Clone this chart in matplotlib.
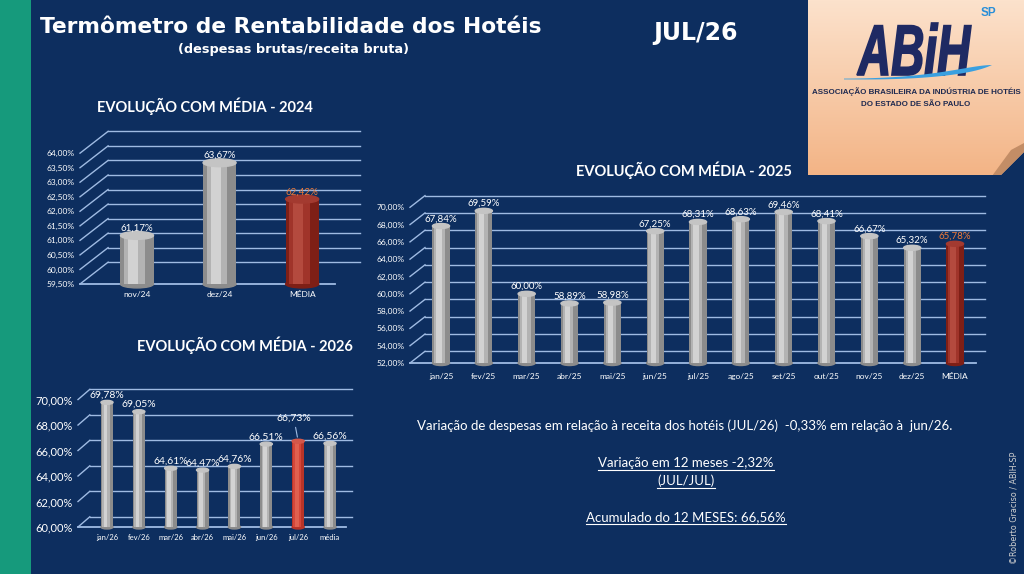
import matplotlib
matplotlib.use("Agg")
import matplotlib.pyplot as plt
import numpy as np
from matplotlib.patches import Ellipse, Polygon, PathPatch, Rectangle
from matplotlib.textpath import TextPath
from matplotlib.font_manager import FontProperties
from matplotlib.transforms import Affine2D
from matplotlib.lines import Line2D

plt.rcParams['font.family'] = ['Lato', 'DejaVu Sans']

NAVY = '#0d2e5f'
GREEN = '#169a7c'
GRID = '#9fbbe3'
ORANGE = '#ee7b3a'

# dados
meses_24 = ['nov/24', 'dez/24', 'MÉDIA']
valores_24 = [61.17, 63.67, 62.42]
ticks_24 = [59.5, 60.0, 60.5, 61.0, 61.5, 62.0, 62.5, 63.0, 63.5, 64.0]

meses_25 = ['jan/25', 'fev/25', 'mar/25', 'abr/25', 'mai/25', 'jun/25', 'jul/25',
            'ago/25', 'set/25', 'out/25', 'nov/25', 'dez/25', 'MÉDIA']
valores_25 = [67.84, 69.59, 60.00, 58.89, 58.98, 67.25, 68.31, 68.63, 69.46,
              68.41, 66.67, 65.32, 65.78]
ticks_25 = [52, 54, 56, 58, 60, 62, 64, 66, 68, 70]

meses_26 = ['jan/26', 'fev/26', 'mar/26', 'abr/26', 'mai/26', 'jun/26', 'jul/26', 'média']
valores_26 = [69.78, 69.05, 64.61, 64.47, 64.76, 66.51, 66.73, 66.56]
ticks_26 = [60, 62, 64, 66, 68, 70]

GREY = ('#8c8c8c', '#b3b3b3', '#d2d2d2', '#c4c4c4')
RED_DARK = ('#7e1f16', '#a0342a', '#b44a3e', '#a33a30')
RED_LIGHT = ('#b83428', '#d4473a', '#e0604f', '#d3574a')


def pct(v):
    return f'{v:.2f}%'.replace('.', ',')


fig = plt.figure(figsize=(10.24, 5.74), dpi=100, facecolor=NAVY)
W, H = 1024, 574


def ftext(x, y, s, **kw):
    return fig.text(x / W, 1 - y / H, s, **kw)


def box(x0, y0, x1, y1):
    return [x0 / W, 1 - y1 / H, (x1 - x0) / W, (y1 - y0) / H]


def cylinder(ax, x, top, floor, w, cap, cols):
    base, mid, light, capc = cols
    ax.add_patch(Ellipse((x, floor), w, cap, color=base, zorder=3, clip_on=False))
    ax.bar(x, top - floor, w, bottom=floor, color=base, zorder=3, linewidth=0)
    ax.bar(x - w * 0.08, top - floor, w * 0.62, bottom=floor, color=mid, zorder=3, linewidth=0)
    ax.bar(x - w * 0.12, top - floor, w * 0.3, bottom=floor, color=light, zorder=3, linewidth=0)
    ax.add_patch(Ellipse((x, top), w, cap, color=capc, zorder=4, clip_on=False))


def grade(ax, ticks, off, dx, floor_x1):
    x0, x1 = ax.get_xlim()
    for t in ticks:
        ax.plot([x0, x0 + dx], [t, t + off], color=GRID, lw=1, zorder=1, clip_on=False)
        ax.plot([x0 + dx, x1], [t + off, t + off], color=GRID, lw=1, zorder=1, clip_on=False)
    ax.plot([x0, floor_x1], [ticks[0], ticks[0]], color=GRID, lw=1.3, zorder=2, clip_on=False)


def setup(ax, cats, ticks, ylim, xlim, ysize, xsize, ypad, xpad):
    ax.set_facecolor('none')
    for s in ax.spines.values():
        s.set_visible(False)
    ax.set_xlim(xlim)
    ax.set_ylim(ylim)
    ax.set_yticks(ticks)
    ax.set_yticklabels([pct(t) for t in ticks], color='white', fontsize=ysize)
    ax.set_xticks(range(len(cats)))
    ax.set_xticklabels(cats, color='white', fontsize=xsize)
    ax.tick_params(axis='y', length=0, pad=ypad)
    ax.tick_params(axis='x', length=0, pad=xpad)


# faixa verde
fig.add_artist(Rectangle((0, 0), 31 / W, 1, transform=fig.transFigure, color=GREEN, lw=0))

# cabeçalho
ftext(40, 27, 'Termômetro de Rentabilidade dos Hotéis', color='white', fontsize=15.7,
      fontweight='bold', family='DejaVu Sans', va='center', ha='left')
ftext(293, 50, '(despesas brutas/receita bruta)', color='white', fontsize=9.3,
      fontweight='bold', family='DejaVu Sans', va='center', ha='center')
ftext(695, 33, 'JUL/26', color='white', fontsize=17, fontweight='bold',
      family='DejaVu Sans', va='center', ha='center')

# ---- 2024
ax1 = fig.add_axes(box(80, 127, 360, 284))
setup(ax1, meses_24, ticks_24, (59.5, 64.9), (-0.69, 2.70), 6, 6, 4, 5)
grade(ax1, ticks_24, 0.75, 0.34, 2.4)
for i, v in enumerate(valores_24):
    media = meses_24[i] == 'MÉDIA'
    cylinder(ax1, i, v, 59.5, 0.4, 0.27, RED_DARK if media else GREY)
    ax1.annotate(pct(v), (i, v), xytext=(0, 2), textcoords='offset points', ha='center',
                 va='bottom', fontsize=7, color=ORANGE if media else 'white', zorder=5)
ftext(205, 106, 'EVOLUÇÃO COM MÉDIA - 2024', color='white', fontsize=10.5,
      fontweight='bold', ha='center', va='center')

# ---- 2025
ax2 = fig.add_axes(box(410, 190, 985, 363))
setup(ax2, meses_25, ticks_25, (52, 72), (-0.724, 12.70), 6, 6, 4, 7)
grade(ax2, ticks_25, 1.35, 0.35, 12.5)
for i, v in enumerate(valores_25):
    media = meses_25[i] == 'MÉDIA'
    cylinder(ax2, i, v, 52, 0.4, 0.58, RED_DARK if media else GREY)
    ax2.annotate(pct(v), (i, v), xytext=(0, 2), textcoords='offset points', ha='center',
                 va='bottom', fontsize=7, color=ORANGE if media else 'white', zorder=5)
ftext(684, 170, 'EVOLUÇÃO COM MÉDIA - 2025', color='white', fontsize=10.5,
      fontweight='bold', ha='center', va='center')

# ---- 2026
ax3 = fig.add_axes(box(78, 383, 352, 527))
setup(ax3, meses_26, ticks_26, (60, 71.3), (-0.91, 7.69), 8, 5.5, 4, 5)
grade(ax3, ticks_26, 0.8, 0.37, 7.5)
for i, v in enumerate(valores_26):
    atual = meses_26[i] == 'jul/26'
    cylinder(ax3, i, v, 60, 0.38, 0.31, RED_LIGHT if atual else GREY)
    if atual:
        ax3.annotate(pct(v), (i, v), xytext=(-3, 13), textcoords='offset points', ha='center',
                     va='bottom', fontsize=7.5, color='white', zorder=5,
                     arrowprops=dict(arrowstyle='-', color=GRID, lw=0.8, shrinkA=1, shrinkB=3))
    else:
        ax3.annotate(pct(v), (i, v), xytext=(0, 2), textcoords='offset points', ha='center',
                     va='bottom', fontsize=7.5, color='white', zorder=5)
ftext(245, 345, 'EVOLUÇÃO COM MÉDIA - 2026', color='white', fontsize=10.5,
      fontweight='bold', ha='center', va='center')

# ---- textos de resumo
ftext(685, 426, 'Variação de despesas em relação à receita dos hotéis (JUL/26)  -0,33% em relação à  jun/26.',
      color='white', fontsize=9.5, ha='center', va='center')
sub = [ftext(686, 463, 'Variação em 12 meses -2,32%', color='white', fontsize=9.5, ha='center', va='center'),
       ftext(686, 481, '(JUL/JUL)', color='white', fontsize=9.5, ha='center', va='center'),
       ftext(686, 517, 'Acumulado do 12 MESES: 66,56%', color='white', fontsize=9.5, ha='center', va='center')]
ftext(1014, 508, '©Roberto Graciso / ABIH-SP', color='#d0d0d0', fontsize=5.8, rotation=90,
      ha='center', va='center', family='DejaVu Sans')

# ---- logo
axl = fig.add_axes(box(808, 0, 1024, 175))
axl.set_xlim(0, 216)
axl.set_ylim(175, 0)
axl.axis('off')
c0 = np.array([252, 226, 204]) / 255
c1 = np.array([243, 180, 134]) / 255
t = np.linspace(0, 1, 120)[:, None, None]
grad = c0 * (1 - t) + c1 * t
axl.imshow(grad, extent=(0, 216, 175, 0), aspect='auto', zorder=0)
axl.add_patch(Polygon([(216, 152), (216, 176), (192, 176)], closed=True, color=NAVY, lw=0, zorder=2))
axl.add_patch(Polygon([(184, 176), (203, 150), (216, 143), (216, 152), (192, 176)],
                      closed=True, color='#c38d66', lw=0, zorder=2))

fp = FontProperties(family='Liberation Sans', weight='bold', style='italic')
tp = TextPath((0, 0), 'ABiH', size=1, prop=fp)
ext = tp.get_extents()
sx = 114 / ext.width
sy = 52 / ext.height
tr = Affine2D().translate(-ext.x0, -ext.y0).scale(sx, -sy).translate(49, 75)
axl.add_patch(PathPatch(tr.transform_path(tp), facecolor='#1f2a63', edgecolor='#1f2a63',
                        lw=1.2, zorder=3))
axl.text(180, 13, 'SP', color='#2a8fd8', fontsize=8.5, fontweight='bold',
         family='Liberation Sans', ha='center', va='center', zorder=3)

s = np.linspace(0, 1, 80)
xs = 36 + 148 * s
yc = 79 - 14 * s ** 2.5
th = (0.8 + 6 * s ** 1.5) * (1 - s ** 10)
axl.fill(np.concatenate([xs, xs[::-1]]), np.concatenate([yc - th / 2, (yc + th / 2)[::-1]]),
         color='#3aa0e0', lw=0, zorder=3)

axl.text(108, 92, 'ASSOCIAÇÃO BRASILEIRA DA INDÚSTRIA DE HOTÉIS', color='#1f2a50',
         fontsize=5.8, fontweight='bold', family='Liberation Sans', ha='center', va='center', zorder=3)
axl.text(108, 105, 'DO ESTADO DE SÃO PAULO', color='#1f2a50',
         fontsize=5.8, fontweight='bold', family='Liberation Sans', ha='center', va='center', zorder=3)

# sublinhados
fig.canvas.draw()
rend = fig.canvas.get_renderer()
for tx in sub:
    bb = tx.get_window_extent(rend)
    y = bb.y0 - 0.5
    fig.add_artist(Line2D([bb.x0 / W, bb.x1 / W], [y / H, y / H], color='white', lw=0.8))

fig.savefig('out.png', dpi=100, facecolor=NAVY)
